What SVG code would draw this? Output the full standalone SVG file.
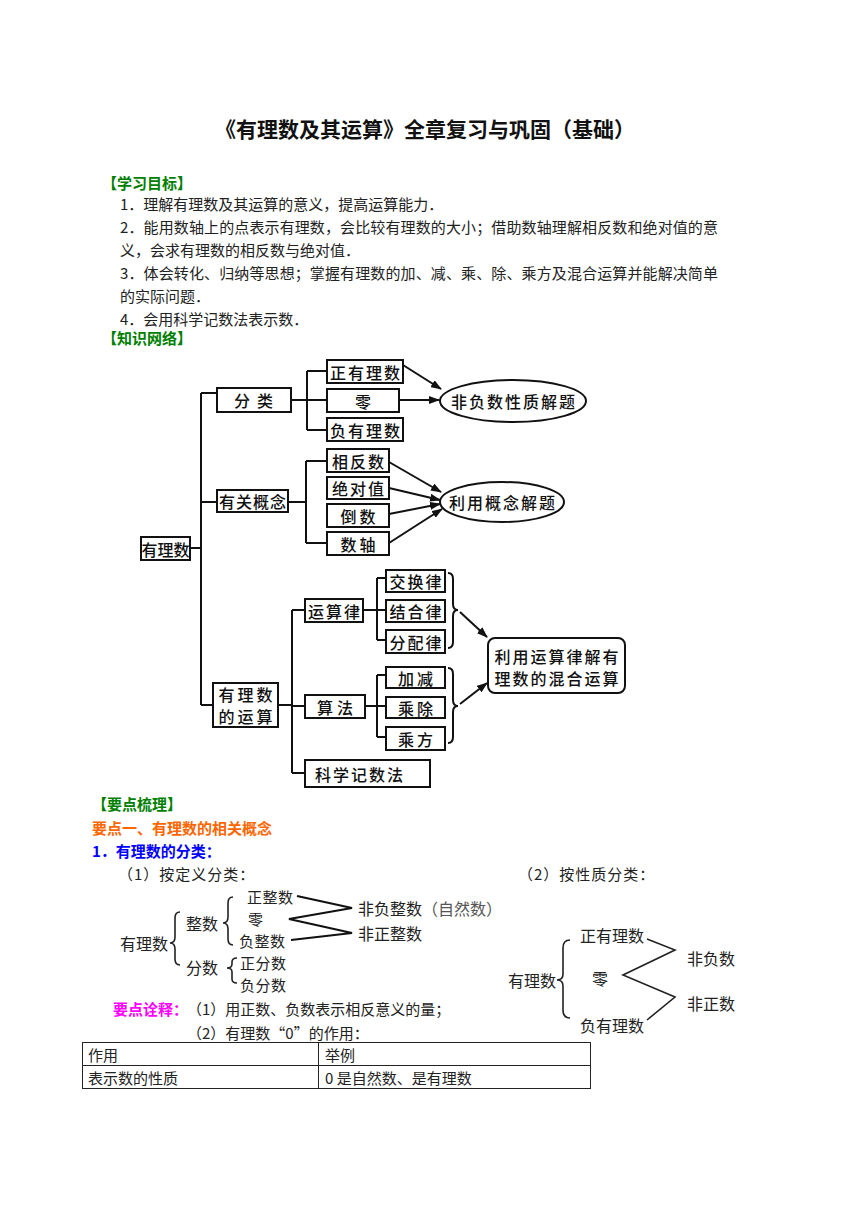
<svg xmlns="http://www.w3.org/2000/svg" width="860" height="1216" viewBox="0 0 860 1216">
<defs>
<style>
text{text-spacing-trim:space-all;font-feature-settings:"chws" 0,"halt" 0}
.t{font-family:"Noto Sans CJK SC",sans-serif;font-size:15px;fill:#222}
.h{font-family:"Noto Sans CJK SC",sans-serif;font-size:15px;font-weight:bold}
.g{fill:#008000}
.bx{fill:#fff;stroke:#111;stroke-width:2}
.bt{font-family:"Noto Sans CJK SC",sans-serif;font-size:16px;font-weight:500;fill:#111;text-anchor:middle;dominant-baseline:central}
.ln{fill:none;stroke:#111;stroke-width:2}
.ar{fill:none;stroke:#111;stroke-width:2;marker-end:url(#ah)}
.c{font-family:"Noto Sans CJK SC",sans-serif;font-size:16px;fill:#222;dominant-baseline:central}
.s{font-size:15px;letter-spacing:0.5px}
.cl{fill:none;stroke:#222;stroke-width:1.6}
.tb{fill:none;stroke:#222;stroke-width:1}
</style>
<marker id="ah" markerWidth="11" markerHeight="8" refX="10" refY="4" orient="auto" markerUnits="userSpaceOnUse">
<path d="M0,0 L11,4 L0,8 Z" fill="#111"/>
</marker>
</defs>
<rect width="860" height="1216" fill="#fff"/>

<g id="title">
<text x="425" y="128" font-family="Noto Sans CJK SC,sans-serif" font-size="21" font-weight="bold" fill="#111" text-anchor="middle" dominant-baseline="central">《有理数及其运算》全章复习与巩固（基础）</text>
</g>

<g id="goals">
<text class="h g" x="102" y="182" dominant-baseline="central">【学习目标】</text>
<text class="t" x="120" y="203" dominant-baseline="central">1．理解有理数及其运算的意义，提高运算能力．</text>
<text class="t" x="120" y="226" dominant-baseline="central" textLength="598" lengthAdjust="spacing">2．能用数轴上的点表示有理数，会比较有理数的大小；借助数轴理解相反数和绝对值的意</text>
<text class="t" x="120" y="249" dominant-baseline="central">义，会求有理数的相反数与绝对值．</text>
<text class="t" x="120" y="272" dominant-baseline="central" textLength="598" lengthAdjust="spacing">3．体会转化、归纳等思想；掌握有理数的加、减、乘、除、乘方及混合运算并能解决简单</text>
<text class="t" x="120" y="295" dominant-baseline="central">的实际问题．</text>
<text class="t" x="120" y="318" dominant-baseline="central">4．会用科学记数法表示数．</text>
<text class="h g" x="102" y="337" dominant-baseline="central">【知识网络】</text>
</g>

<g id="connectors">
<path class="ln" d="M190,548 H201 M201,393 V705 M201,393 H217 M201,502 H217 M201,705 H213"/>
<path class="ln" d="M291,400 H327 M307,371 V430 M307,371 H327 M307,430 H327"/>
<path class="ln" d="M288,502 H306 M306,461 V543 M306,461 H327 M306,543 H327"/>
<path class="ln" d="M278,705 H292 M292,610 V773 M292,610 H305 M292,706 H305 M292,773 H305"/>
<path class="ln" d="M363,610 H386 M377,578 V640 M377,578 H386 M377,640 H386"/>
<path class="ln" d="M365,706 H386 M377,675 V737 M377,675 H386 M377,737 H386"/>
<path class="ln" d="M448,573 Q453,573 453,579 V604 Q453,610 458,610 Q453,610 453,616 V642 Q453,648 448,648"/>
<path class="ln" d="M448,668 Q453,668 453,674 V700 Q453,706 458,706 Q453,706 453,712 V737 Q453,743 448,743"/>
<path class="ar" d="M403,365 L441,389"/>
<path class="ar" d="M399,400 L439,400"/>
<path class="ar" d="M389,462 L441,492"/>
<path class="ar" d="M389,488 L440,500"/>
<path class="ar" d="M389,514 L440,504"/>
<path class="ar" d="M389,543 L442,509"/>
<path class="ar" d="M460,612 L487,637"/>
<path class="ar" d="M460,704 L487,683"/>
</g>

<g id="n-youlishu"><rect class="bx" x="141" y="537" width="49" height="23"/><text class="bt" x="165.5" y="548.5" font-size="14.5">有理数</text></g>
<g id="n-fenlei"><rect class="bx" x="217" y="388" width="74" height="24"/><text class="bt" x="257" y="400" letter-spacing="7">分类</text></g>
<g id="n-zheng"><rect class="bx" x="327" y="360" width="76" height="23"/><text class="bt" x="366" y="371.5" letter-spacing="2">正有理数</text></g>
<g id="n-ling"><rect class="bx" x="327" y="389" width="72" height="23"/><text class="bt" x="363" y="400.5">零</text></g>
<g id="n-fu"><rect class="bx" x="327" y="418" width="76" height="23"/><text class="bt" x="366" y="429.5" letter-spacing="2">负有理数</text></g>
<g id="n-gainian"><rect class="bx" x="217" y="490" width="71" height="22"/><text class="bt" x="253" y="501" letter-spacing="1">有关概念</text></g>
<g id="n-xiangfan"><rect class="bx" x="327" y="449" width="62" height="23"/><text class="bt" x="359" y="460.5" letter-spacing="2">相反数</text></g>
<g id="n-jueduizhi"><rect class="bx" x="327" y="477" width="62" height="22"/><text class="bt" x="359" y="488" letter-spacing="2">绝对值</text></g>
<g id="n-daoshu"><rect class="bx" x="327" y="504" width="62" height="23"/><text class="bt" x="359.5" y="515.5" letter-spacing="3">倒数</text></g>
<g id="n-shuzhou"><rect class="bx" x="327" y="532" width="62" height="23"/><text class="bt" x="359.5" y="543.5" letter-spacing="3">数轴</text></g>
<g id="n-e1"><ellipse class="bx" cx="513" cy="401" rx="73" ry="21"/><text class="bt" x="514" y="401" letter-spacing="2">非负数性质解题</text></g>
<g id="n-e2"><ellipse class="bx" cx="502" cy="502" rx="62" ry="20"/><text class="bt" x="503" y="502" letter-spacing="2">利用概念解题</text></g>
<g id="n-yunsuan"><rect class="bx" x="213" y="683" width="65" height="44"/><text class="bt" x="247" y="694" letter-spacing="3">有理数</text><text class="bt" x="247" y="716" letter-spacing="3">的运算</text></g>
<g id="n-yunsuanlv"><rect class="bx" x="305" y="599" width="58" height="23"/><text class="bt" x="335" y="610.5" letter-spacing="2">运算律</text></g>
<g id="n-suanfa"><rect class="bx" x="305" y="695" width="60" height="23"/><text class="bt" x="337" y="706.5" letter-spacing="4">算法</text></g>
<g id="n-kexue"><rect class="bx" x="305" y="760" width="125" height="27"/><text class="bt" x="315" y="773.5" letter-spacing="2" style="text-anchor:start">科学记数法</text></g>
<g id="n-jiaohuan"><rect class="bx" x="386" y="570" width="59" height="22"/><text class="bt" x="416.5" y="581" letter-spacing="2">交换律</text></g>
<g id="n-jiehe"><rect class="bx" x="386" y="600" width="59" height="22"/><text class="bt" x="416.5" y="611" letter-spacing="2">结合律</text></g>
<g id="n-fenpei"><rect class="bx" x="386" y="630" width="59" height="23"/><text class="bt" x="416.5" y="641.5" letter-spacing="2">分配律</text></g>
<g id="n-jiajian"><rect class="bx" x="386" y="667" width="59" height="21"/><text class="bt" x="417" y="677.5" letter-spacing="3">加减</text></g>
<g id="n-chengchu"><rect class="bx" x="386" y="697" width="59" height="21"/><text class="bt" x="417" y="707.5" letter-spacing="3">乘除</text></g>
<g id="n-chengfang"><rect class="bx" x="386" y="727" width="59" height="23"/><text class="bt" x="417" y="738.5" letter-spacing="3">乘方</text></g>
<g id="n-hunhe"><rect class="bx" x="488" y="638" width="137" height="55" rx="7"/><text class="bt" x="557.5" y="655.5" letter-spacing="2">利用运算律解有</text><text class="bt" x="557.5" y="677.5" letter-spacing="2">理数的混合运算</text></g>

<g id="points">
<text class="h g" x="92" y="803" dominant-baseline="central">【要点梳理】</text>
<text class="h" x="92" y="827" fill="#FF6600" dominant-baseline="central">要点一、有理数的相关概念</text>
<text class="h" x="92" y="850" fill="#0000FF" dominant-baseline="central">1．有理数的分类：</text>
<text class="t" x="118" y="873" dominant-baseline="central" letter-spacing="1">（1）按定义分类：</text>
<text class="t" x="518" y="873" dominant-baseline="central" letter-spacing="1">（2）按性质分类：</text>
</g>

<g id="def-classify">
<text class="c" x="120" y="943">有理数</text>
<path class="cl" d="M180,912 Q175,912 175,918 V937 Q175,943 170,943 Q175,943 175,949 V959 Q175,965 180,965"/>
<text class="c" x="186" y="923">整数</text>
<text class="c" x="186" y="967">分数</text>
<path class="cl" d="M233,897 Q228,897 228,903 V917 Q228,923 223,923 Q228,923 228,929 V939 Q228,945 233,945"/>
<path class="cl" d="M237,958 Q232,958 232,962 V964 Q232,968 227,968 Q232,968 232,972 V979 Q232,983 237,983"/>
<text class="c s" x="247" y="896">正整数</text>
<text class="c s" x="248" y="918">零</text>
<text class="c s" x="239" y="940">负整数</text>
<text class="c s" x="240" y="962">正分数</text>
<text class="c s" x="240" y="984">负分数</text>
<path fill="none" stroke="#111" stroke-width="2.2" d="M297,896 L352,908 L289,919 L352,933 L291,940"/>
<text class="c" x="358" y="908">非负整数<tspan fill="#555">（自然数）</tspan></text>
<text class="c" x="358" y="933">非正整数</text>
</g>

<g id="prop-classify">
<text class="c" x="508" y="980" font-size="15">有理数</text>
<path class="cl" d="M570,940 Q563,940 563,948 V974 Q563,980 557,980 Q563,980 563,986 V1010 Q563,1018 570,1018"/>
<text class="c" x="580" y="935" font-size="15">正有理数</text>
<text class="c" x="592" y="978" font-size="15">零</text>
<text class="c" x="580" y="1025" font-size="15">负有理数</text>
<path fill="none" stroke="#222" stroke-width="1.6" d="M647,939 L675,950 L623,975 L675,997 L647,1020"/>
<text class="c" x="687" y="958" font-size="15">非负数</text>
<text class="c" x="687" y="1003" font-size="15">非正数</text>
</g>

<g id="notes">
<text class="h" x="113" y="1008" fill="#FF00FF" dominant-baseline="central">要点诠释：</text>
<text class="t" x="187" y="1008" dominant-baseline="central">（1）用正数、负数表示相反意义的量；</text>
<text class="t" x="187" y="1032" dominant-baseline="central">（2）有理数“0”的作用：</text>
</g>

<g id="table">
<rect class="tb" x="82.5" y="1042.5" width="508" height="46"/>
<path class="tb" d="M82.5,1065.5 H590.5 M318.5,1042.5 V1088.5"/>
<text class="t" x="88" y="1054" dominant-baseline="central">作用</text>
<text class="t" x="325" y="1054" dominant-baseline="central">举例</text>
<text class="t" x="88" y="1077" dominant-baseline="central">表示数的性质</text>
<text class="t" x="325" y="1077" dominant-baseline="central">0 是自然数、是有理数</text>
</g>
</svg>
